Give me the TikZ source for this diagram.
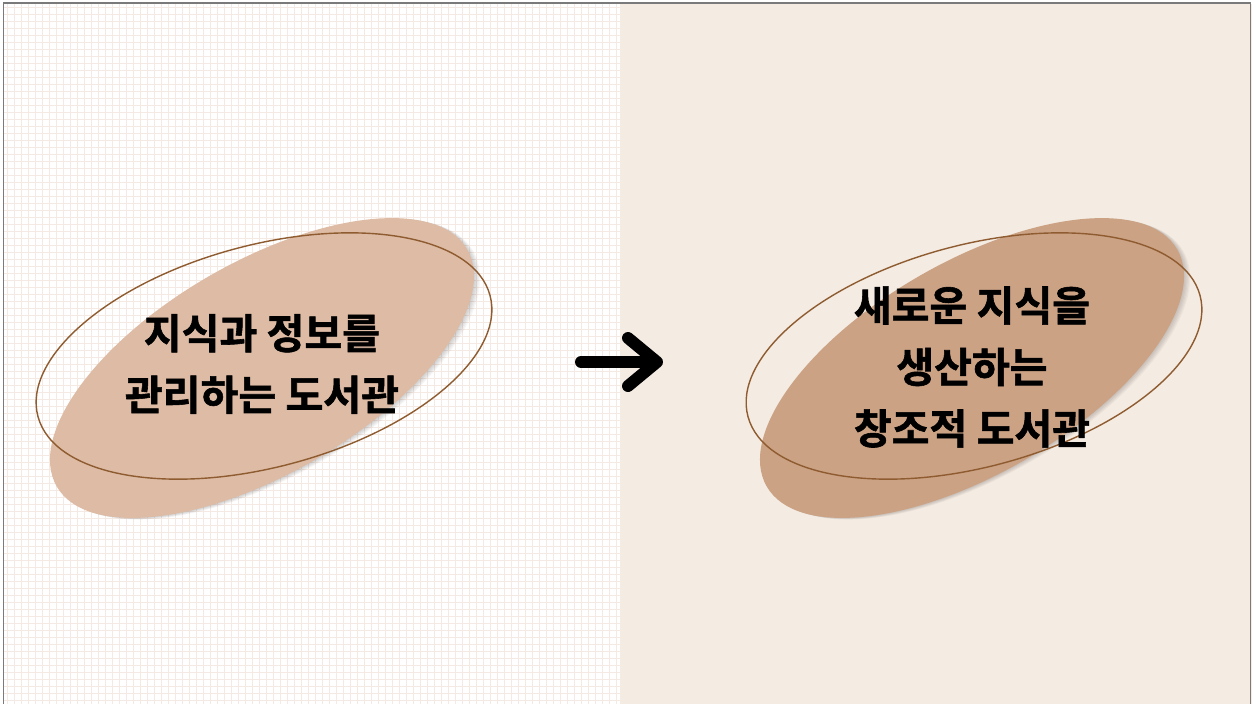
\documentclass[tikz,border=0pt]{standalone}
\usepackage{fontspec}
\newfontfamily\krfont{Noto Sans CJK KR}[BoldFont=Noto Sans CJK KR Bold,BoldFeatures={FakeBold=1.4}]
\usetikzlibrary{calc}
\definecolor{gridpink}{HTML}{F5E9E3}
\definecolor{paper}{HTML}{F4EBE2}
\definecolor{sandleft}{HTML}{DDBBA4}
\definecolor{sandright}{HTML}{CBA284}
\definecolor{ringbrown}{HTML}{8E5C30}
\definecolor{framegray}{HTML}{7A7A7A}
\begin{document}
\begin{tikzpicture}[x=0.02cm,y=-0.02cm,
    libtext/.style={font=\krfont\bfseries\fontsize{23.4}{35}\selectfont,align=center,inner sep=0pt},
    ring/.style={draw=ringbrown,line width=0.8pt}]
    \useasboundingbox (0,0) rectangle (1252,704);

    % sfondo a quadretti e pannello destro
    \fill[white] (4,4) rectangle (620,704);
    \draw[gridpink,line width=0.4pt,step=0.14cm] (4,4) grid (620,704);
    \fill[paper] (620,4) rectangle (1252,704);

    % cornice
    \draw[framegray,line width=1.1pt] (3.5,704) -- (3.5,3) -- (1250.5,3) -- (1250.5,704);

    % ellissi piene con ombra, poi anello
    \foreach \dx/\col in {0/sandleft,710/sandright} {
      \begin{scope}[xshift=\dx*0.02cm]
        \foreach \s in {1,...,5}
          \fill[black,opacity=0.035,rotate around={30:(262,368)}]
            (262+\s*0.9,368+\s*0.9) ellipse [x radius=237,y radius=106];
        \fill[\col,rotate around={30:(262,368)}] (262,368) ellipse [x radius=237,y radius=106];
        \draw[ring,rotate around={15:(264,356)}] (264,356) ellipse [x radius=234,y radius=111];
      \end{scope}
    }

    % testi
    \node[libtext] (oldlib) at (262,364) {지식과 정보를\\관리하는 도서관};
    \node[libtext] (newlib) at (972,367) {새로운 지식을\\생산하는\\창조적 도서관};

    % freccia
    \coordinate (arrowtail) at (581,362);
    \coordinate (arrowtip) at (657,362);
    \draw[black,line width=6.8pt,line cap=round,line join=round]
      (arrowtail) -- (arrowtip)
      ($(arrowtip)+(-29,-24)$) -- (arrowtip) -- ($(arrowtip)+(-29,24)$);
\end{tikzpicture}
\end{document}
